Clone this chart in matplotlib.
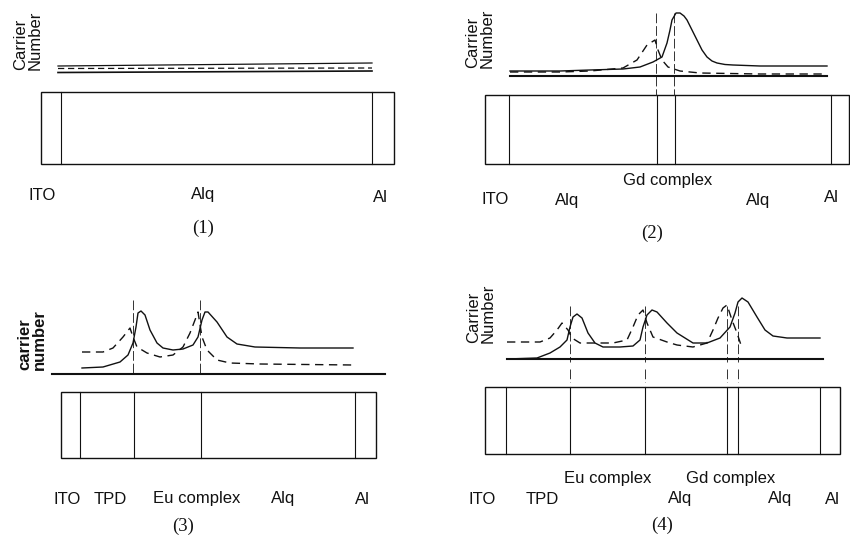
import matplotlib
matplotlib.use("Agg")
import matplotlib.pyplot as plt
from matplotlib.patches import Rectangle

# carrier curves: x = position across the device (px),
# values = carrier number as height above each panel's base line (px)

# panel (1): flat lines
p1_x = [58, 372]
p1_solid_top = [6.5, 8.0]
p1_dashed = [4.0, 3.0]
p1_solid_bot = [0.0, 0.0]

# panel (2): Gd complex
p2_x_solid = [510, 560, 590, 623, 640, 653, 662, 667, 670, 672, 676, 680, 684,
              687, 692, 697, 702, 707, 712, 717, 725, 733, 760, 827]
p2_solid = [5, 5, 6, 7, 9, 14, 19, 33, 46, 56, 63, 63, 60, 56, 46, 36, 26, 19,
            15, 13, 11.5, 11, 10, 10]
p2_x_dashed = [510, 560, 590, 623, 637, 647, 655, 658, 662, 668, 680, 700, 760, 827]
p2_dashed = [4, 4, 5, 8, 16, 31, 36, 26, 16, 9, 5, 3, 2, 2]

# panel (3): TPD / Eu complex
p3_x_solid = [82, 103, 120, 128, 133, 136, 138, 141, 145, 150, 157, 163, 173,
              183, 193, 198, 202, 205, 208, 217, 227, 237, 255, 300, 353]
p3_solid = [6, 7, 12, 19, 31, 47, 61, 63, 59, 44, 31, 26, 24, 25, 29, 37, 54,
            62, 62, 52, 37, 30, 27, 26, 26]
p3_x_dashed = [82, 103, 113, 123, 130, 133, 137, 147, 160, 173, 183, 190, 195,
               198, 202, 207, 217, 230, 260, 353]
p3_dashed = [22, 22, 26, 37, 46, 37, 27, 21, 17, 19, 27, 41, 54, 62, 37, 24,
             14, 11, 10, 9]

# panel (4): TPD / Eu complex / Alq / Gd complex
p4_x_solid = [507, 537, 550, 560, 567, 570, 573, 577, 582, 588, 595, 603, 620,
              633, 640, 643, 647, 652, 657, 667, 677, 693, 707, 720, 730, 735,
              738, 742, 748, 757, 765, 773, 787, 820]
p4_solid = [0, 1, 6, 12, 19, 32, 42, 45, 41, 26, 16, 12, 12, 13, 19, 32, 44,
            49, 47, 36, 26, 16, 16, 21, 32, 46, 57, 61, 57, 42, 29, 23, 21, 21]
p4_x_dashed = [507, 540, 550, 557, 562, 568, 572, 580, 597, 613, 627, 633, 638,
               643, 647, 653, 667, 677, 693, 707, 713, 718, 723, 727, 732, 737, 742]
p4_dashed = [17, 17, 21, 29, 36, 29, 21, 16, 16, 16, 19, 32, 44, 49, 36, 22,
             17, 14, 12, 16, 29, 41, 51, 54, 39, 26, 11]

# layer boxes and interfaces
panels = [
    dict(base=72.5, line=(58, 372), box=(41, 92, 394, 164), inner=[61, 372],
         marks=[], mark_spans=[], ylab="Carrier\nNumber", ylab_xy=(28, 70), bold=False),
    dict(base=76, line=(510, 827), box=(485, 95, 849, 164), inner=[509, 657, 675, 831],
         marks=[656, 674], mark_spans=[(13, 95)], ylab="Carrier\nNumber", ylab_xy=(480, 68), bold=False),
    dict(base=374, line=(52, 385), box=(61, 392, 376, 458), inner=[80, 134, 201, 355],
         marks=[133, 200], mark_spans=[(300, 373)], ylab="carrier\nnumber", ylab_xy=(32, 370), bold=True),
    dict(base=359, line=(507, 823), box=(485, 387, 840, 454), inner=[506, 570, 645, 727, 738, 820],
         marks=[570, 645, 727, 738], mark_spans=[(306, 362), (369, 382)],
         ylab="Carrier\nNumber", ylab_xy=(481, 343), bold=False),
]

labels = [
    ("ITO", 42, 195), ("Alq", 203, 195), ("Al", 380, 197),
    ("Gd complex", 668, 180), ("ITO", 495, 200), ("Alq", 567, 200), ("Alq", 758, 200), ("Al", 831, 197),
    ("ITO", 67, 499), ("TPD", 110, 499), ("Eu complex", 197, 499), ("Alq", 283, 499), ("Al", 362, 499),
    ("Eu complex", 608, 479), ("Gd complex", 731, 479),
    ("ITO", 482, 499), ("TPD", 542, 499), ("Alq", 680, 499), ("Alq", 780, 499), ("Al", 832, 499),
]
captions = [("(1)", 203, 228), ("(2)", 652, 233), ("(3)", 183, 526), ("(4)", 662, 525)]

fig = plt.figure(figsize=(8.5, 5.37), dpi=100)
ax = fig.add_axes([0, 0, 1, 1])
ax.set_xlim(0, 850)
ax.set_ylim(537, 0)
ax.axis("off")

ink = "#111111"
dash = (0, (6, 4))

for p in panels:
    x0, y0, x1, y1 = p["box"]
    ax.add_patch(Rectangle((x0, y0), x1 - x0, y1 - y0, fill=False, ec=ink, lw=1.0))
    for xv in p["inner"]:
        ax.plot([xv, xv], [y0, y1], color=ink, lw=0.8)
    for span in p["mark_spans"]:
        for xv in p["marks"]:
            ax.plot([xv, xv], span, color="#333333", lw=0.7, ls=(0, (10, 3)))
    ax.text(p["ylab_xy"][0], p["ylab_xy"][1], p["ylab"], rotation=90, ha="center", va="bottom",
            multialignment="left", fontsize=12, family="Liberation Sans",
            fontweight="bold" if p["bold"] else "normal", linespacing=0.95, color=ink)

# panel 1
base = panels[0]["base"]
ax.plot(p1_x, [base - 1.5 * i - v for i, v in zip([0, 1], p1_solid_top)], color=ink, lw=0.9)
ax.plot(p1_x, [base - 1.5 * i - v for i, v in zip([0, 1], p1_dashed)], color=ink, lw=0.9, ls=(0, (5, 3)))
ax.plot(p1_x, [base - 1.5 * i - v for i, v in zip([0, 1], p1_solid_bot)], color=ink, lw=1.2)

# panels 2-4
curves = [
    (panels[1], p2_x_solid, p2_solid, p2_x_dashed, p2_dashed),
    (panels[2], p3_x_solid, p3_solid, p3_x_dashed, p3_dashed),
    (panels[3], p4_x_solid, p4_solid, p4_x_dashed, p4_dashed),
]
for p, xs, ys, xd, yd in curves:
    b = p["base"]
    ax.plot(p["line"], [b, b], color=ink, lw=1.5)
    ax.plot(xs, [b - v for v in ys], color=ink, lw=1.0)
    ax.plot(xd, [b - v for v in yd], color=ink, lw=1.0, ls=dash)

for s, x, y in labels:
    ax.text(x, y, s, ha="center", va="center", fontsize=12, family="Liberation Sans", color=ink)
for s, x, y in captions:
    ax.text(x, y, s, ha="center", va="center", fontsize=13.5, family="Liberation Serif", color=ink)

fig.savefig("out.png", dpi=100)
